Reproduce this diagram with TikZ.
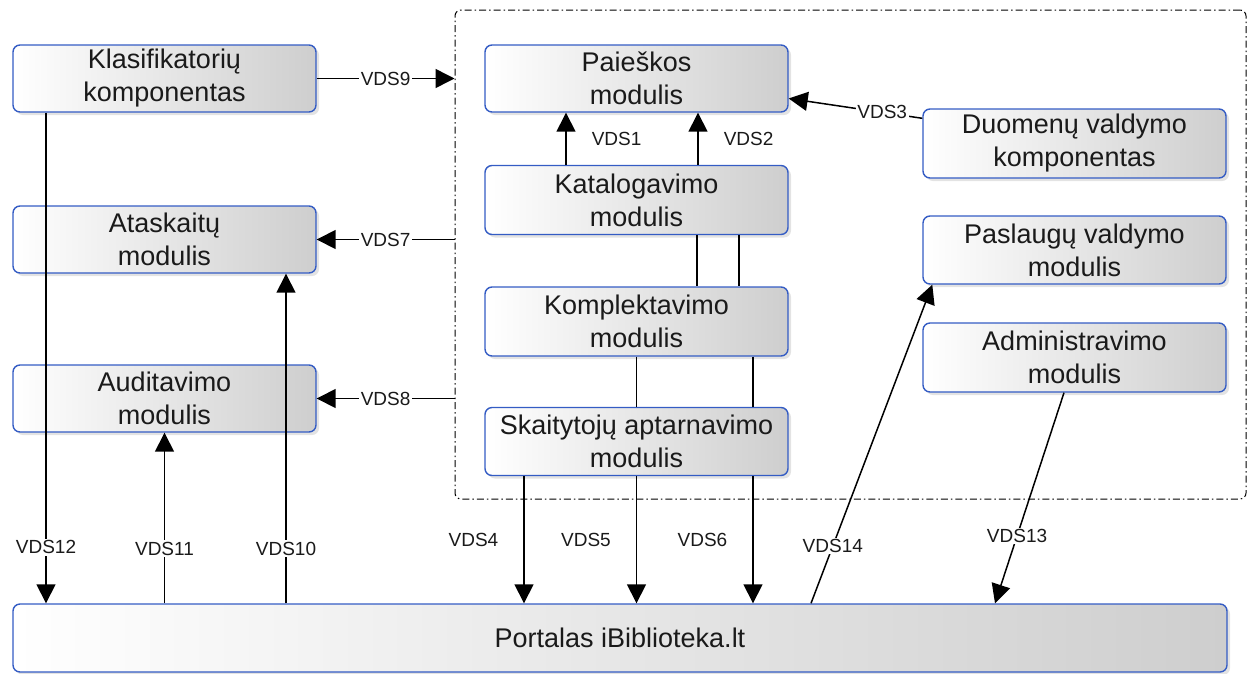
\documentclass[tikz,border=0pt]{standalone}
\usepackage{fontspec}
\setmainfont{Liberation Sans}
\usetikzlibrary{arrows.meta,shadows,positioning}
\definecolor{boxblue}{RGB}{52,92,196}
\definecolor{boxgray}{RGB}{206,206,206}
\definecolor{inktext}{RGB}{26,26,26}

\begin{document}
\begin{tikzpicture}[x=1pt,y=-1pt,
  module/.style={draw=boxblue, line width=1.4pt, rounded corners=7pt,
    left color=white, right color=boxgray,
    drop shadow={opacity=0.22,shadow xshift=3pt,shadow yshift=-3pt},
    minimum width=303pt, minimum height=67pt, align=center, text=inktext,
    font=\fontsize{27}{33}\selectfont, inner sep=0pt},
  frame/.style={draw, line width=1pt, rounded corners=6pt,
    dash pattern=on 7pt off 3pt on 1.5pt off 3pt,
    minimum width=791pt, minimum height=489pt, inner sep=0pt},
  flow/.style={line width=1.5pt, -{Triangle[width=19pt,length=19pt]}},
  link/.style={line width=1.5pt},
  tag/.style={font=\fontsize{19}{22}\selectfont, fill=white, inner sep=1.5pt, text=inktext},
  freetag/.style={font=\fontsize{19}{22}\selectfont, text=inktext, inner sep=0pt},
]
\useasboundingbox (0,0) rectangle (1253,673);

% group frame around the core modules
\node[frame] (grp) at (850.5,254.5) {};

% left column
\node[module] (klas) at (164.5,78.5) {Klasifikatorių\\komponentas};
\node[module] (atas) at (164.5,239.5) {Ataskaitų\\modulis};
\node[module] (audit) at (164.5,398.5) {Auditavimo\\modulis};

% centre column
\node[module] (paie) at (636.5,78.5) {Paieškos\\modulis};
\node[module, minimum height=69pt] (kata) at (636.5,200) {Katalogavimo\\modulis};
\node[module, minimum height=69pt] (komp) at (636.5,321.5) {Komplektavimo\\modulis};
\node[module, minimum height=68pt] (skai) at (636.5,441.5) {Skaitytojų aptarnavimo\\modulis};

% right column
\node[module, minimum height=69pt] (duom) at (1074.5,143.5) {Duomenų valdymo\\komponentas};
\node[module, minimum height=68pt] (pasl) at (1074.5,250) {Paslaugų valdymo\\modulis};
\node[module, minimum height=69pt] (admin) at (1074.5,357.5) {Administravimo\\modulis};

% portal
\node[module, minimum width=1214pt, minimum height=68pt] (port) at (620,638) {Portalas iBiblioteka.lt};

% data flows
\draw[flow] (klas.east) -- node[tag]{VDS9} (klas.east -| grp.west);
\draw[flow] ([yshift=-10pt]duom.north west) -- node[tag,pos=0.3]{VDS3} ([yshift=-20pt]paie.east);
\draw[flow] ([xshift=-70.5pt]kata.north) -- node[freetag, midway, right=25pt]{VDS1} ([xshift=-70.5pt]paie.south);
\draw[flow] ([xshift=61.5pt]kata.north) -- node[freetag, midway, right=25pt]{VDS2} ([xshift=61.5pt]paie.south);

\draw[link] ([xshift=60.5pt]kata.south) -- ([xshift=60.5pt]komp.north);
\draw[link] ([xshift=102.5pt]kata.south) -- ([xshift=102.5pt]komp.north);
\draw[link] (komp.south) -- (skai.north);
\draw[link] ([xshift=116.5pt]komp.south) -- ([xshift=116.5pt]skai.north);

\draw[flow] ([xshift=-112.5pt]skai.south) -- node[freetag, midway, left=25pt]{VDS4} ([xshift=-112.5pt]skai.south |- port.north);
\draw[flow] (skai.south) -- node[freetag, midway, left=25pt]{VDS5} (skai.south |- port.north);
\draw[flow] ([xshift=116.5pt]skai.south) -- node[freetag, midway, left=25pt]{VDS6} ([xshift=116.5pt]skai.south |- port.north);

\draw[flow] (atas.east -| grp.west) -- node[tag]{VDS7} (atas.east);
\draw[flow] (audit.east -| grp.west) -- node[tag]{VDS8} (audit.east);

\draw[flow] ([xshift=-118.5pt]klas.south) -- node[tag,pos=0.886]{VDS12} ([xshift=-118.5pt]klas.south |- port.north);
\draw[flow] (audit.south |- port.north) -- node[tag,pos=0.32]{VDS11} (audit.south);
\draw[flow] ([xshift=121.5pt]atas.south |- port.north) -- node[tag,pos=0.166]{VDS10} ([xshift=121.5pt]atas.south);

\draw[flow] ([xshift=191pt]port.north) -- node[tag,pos=0.18]{VDS14} ([xshift=10pt]pasl.south west);
\draw[flow] ([xshift=-10.5pt]admin.south) -- node[tag,pos=0.68]{VDS13} ([xshift=375pt]port.north);
\end{tikzpicture}
\end{document}
